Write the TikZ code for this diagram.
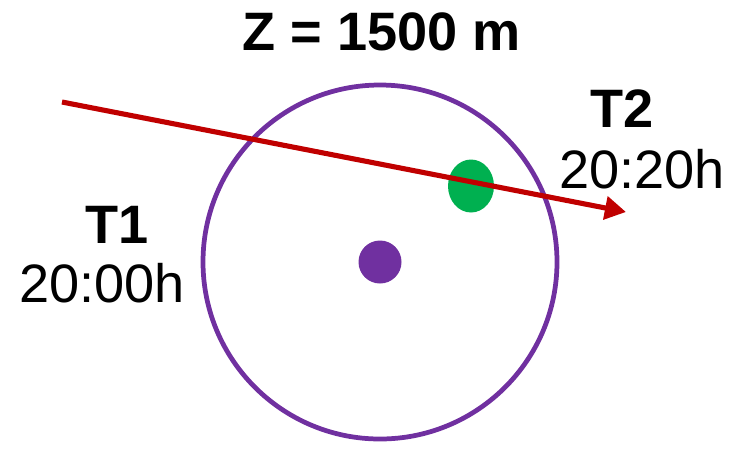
\documentclass[tikz,border=0pt]{standalone}
\usepackage{fontspec}
\setmainfont{Liberation Sans}
\usepackage{xcolor}
\usetikzlibrary{positioning,arrows.meta,shapes.geometric,calc}

\definecolor{ringpurple}{HTML}{7030A0}
\definecolor{spotgreen}{HTML}{00B050}
\definecolor{trackred}{HTML}{C00000}

\begin{document}
\begin{tikzpicture}[x=0.02cm, y=-0.02cm,
    lbl/.style={font=\fontsize{30.8}{36}\selectfont, anchor=base, inner sep=0pt},
    lblbold/.style={lbl, font=\fontsize{30.8}{36}\selectfont\bfseries}]
  % canvas in pixel units: 739 x 451
  \useasboundingbox (0,0) rectangle (739,451);
  % range ring and centre
  \node[circle, draw=ringpurple, line width=2.7pt, minimum size=354*0.02cm, inner sep=0pt] (ring) at (380,262) {};
  \node[circle, fill=ringpurple, minimum size=43*0.02cm, inner sep=0pt] (centre) at (ring.center) {};
  % target position
  \node[ellipse, fill=spotgreen, minimum width=46*0.02cm, minimum height=53*0.02cm, inner sep=0pt] (target) at (471,186) {};
  % track from T1 to T2
  \coordinate (tstart) at (62,102);
  \coordinate (tend) at (626,212);
  \draw[trackred, line width=2.9pt, -{Triangle[length=12pt,width=13pt]}] (tstart) -- (tend);
  % labels
  \node[lblbold] (height) at (382,50) {Z = 1500 m};
  \node[lblbold] (t1) at (117,243) {T1};
  \node[lbl] (t1time) at (102,302) {20:00h};
  \node[lblbold] (t2) at (622,127) {T2};
  \node[lbl] (t2time) at (642,188) {20:20h};
\end{tikzpicture}
\end{document}
